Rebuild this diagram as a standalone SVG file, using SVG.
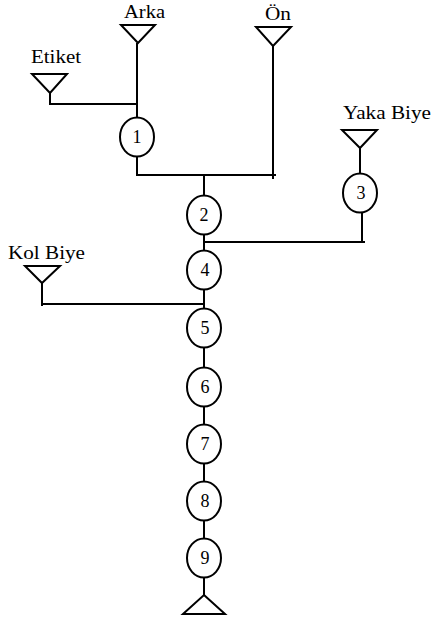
<svg xmlns="http://www.w3.org/2000/svg" width="433" height="617" viewBox="0 0 433 617">
  <style>
    .ln { fill: none; stroke: #000; stroke-width: 2; }
    .nd { fill: #fff; stroke: #000; stroke-width: 2; }
    .lbl { font-family: "Liberation Serif", "Times New Roman", serif; font-size: 18px; fill: #000; }
    .num { font-family: "Liberation Serif", "Times New Roman", serif; font-size: 18px; fill: #000; text-anchor: middle; }
  </style>
  <rect width="433" height="617" fill="#fff"/>

  <!-- connectors -->
  <g id="connectors" class="ln">
    <path d="M137 43 V118"/>
    <path d="M50 93 V104 H137"/>
    <path d="M137 156 V175 H276"/>
    <path d="M273 46 V179"/>
    <path d="M204 175 V196"/>
    <path d="M204 234 V251"/>
    <path d="M204 242 H365"/>
    <path d="M360 148 V174"/>
    <path d="M362 212 V242"/>
    <path d="M42 283 V306"/>
    <path d="M42 304 H205"/>
    <path d="M204 289 V309"/>
    <path d="M204 347 V368"/>
    <path d="M204 406 V425"/>
    <path d="M204 463 V482"/>
    <path d="M204 520 V539"/>
    <path d="M204 577 V595"/>
  </g>

  <!-- inputs -->
  <g id="arka">
    <path class="ln" d="M121 25 H155 L138 43 Z"/>
    <text class="lbl" x="124" y="18" textLength="41" lengthAdjust="spacingAndGlyphs">Arka</text>
  </g>
  <g id="etiket">
    <path class="ln" d="M32 74 H67 L50 93 Z"/>
    <text class="lbl" x="31" y="63" textLength="50" lengthAdjust="spacingAndGlyphs">Etiket</text>
  </g>
  <g id="on">
    <path class="ln" d="M256 27 H291 L273 46 Z"/>
    <text class="lbl" x="265" y="20" textLength="26" lengthAdjust="spacingAndGlyphs">Ön</text>
  </g>
  <g id="yaka-biye">
    <path class="ln" d="M342 130 H377 L360 148 Z"/>
    <text class="lbl" x="343" y="119" textLength="88" lengthAdjust="spacingAndGlyphs">Yaka Biye</text>
  </g>
  <g id="kol-biye">
    <path class="ln" d="M25 266 H60 L42 283 Z"/>
    <text class="lbl" x="8" y="259" textLength="77" lengthAdjust="spacingAndGlyphs">Kol Biye</text>
  </g>

  <!-- operations -->
  <g id="op1"><ellipse class="nd" cx="137" cy="137" rx="17" ry="19.5"/><text class="num" x="137" y="143">1</text></g>
  <g id="op2"><ellipse class="nd" cx="204" cy="215" rx="17" ry="19.5"/><text class="num" x="204" y="221">2</text></g>
  <g id="op3"><ellipse class="nd" cx="360" cy="193" rx="17" ry="19.5"/><text class="num" x="361" y="199">3</text></g>
  <g id="op4"><ellipse class="nd" cx="204" cy="270" rx="17" ry="19.5"/><text class="num" x="205" y="276">4</text></g>
  <g id="op5"><ellipse class="nd" cx="204" cy="328" rx="17" ry="19.5"/><text class="num" x="205" y="334">5</text></g>
  <g id="op6"><ellipse class="nd" cx="204" cy="387" rx="17" ry="19.5"/><text class="num" x="205" y="393">6</text></g>
  <g id="op7"><ellipse class="nd" cx="204" cy="444" rx="17" ry="19.5"/><text class="num" x="205" y="450">7</text></g>
  <g id="op8"><ellipse class="nd" cx="204" cy="501" rx="17" ry="19.5"/><text class="num" x="205" y="507">8</text></g>
  <g id="op9"><ellipse class="nd" cx="204" cy="558" rx="17" ry="19.5"/><text class="num" x="205" y="564">9</text></g>

  <!-- output -->
  <g id="output">
    <path class="ln" d="M204 595 L225 614 H183 Z"/>
  </g>
</svg>
